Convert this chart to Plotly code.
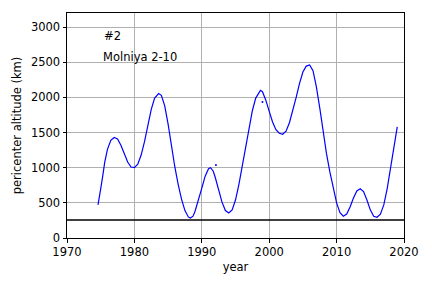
import plotly.graph_objects as go

years = [1974.6, 1974.8, 1975.0, 1975.3, 1975.6, 1976.0, 1976.5, 1977.0, 1977.5, 1978.0,
         1978.5, 1979.0, 1979.5, 1980.0, 1980.5, 1981.0, 1981.5, 1982.0, 1982.5, 1983.0,
         1983.6, 1984.0, 1984.5, 1985.0, 1985.5, 1986.0, 1986.5, 1987.0, 1987.5, 1988.0,
         1988.3, 1988.7, 1989.0, 1989.5, 1990.0, 1990.5, 1991.0, 1991.3, 1991.7, 1992.0,
         1992.5, 1993.0, 1993.5, 1994.0, 1994.5, 1995.0, 1995.5, 1996.0, 1996.5, 1997.0,
         1997.5, 1998.0, 1998.7, 1999.0, 1999.5, 2000.0, 2000.5, 2001.0, 2001.5, 2002.0,
         2002.5, 2003.0, 2003.5, 2004.0, 2004.5, 2005.0, 2005.5, 2006.0, 2006.5, 2007.0,
         2007.5, 2008.0, 2008.5, 2009.0, 2009.5, 2010.0, 2010.5, 2011.0, 2011.5, 2012.0,
         2012.5, 2013.0, 2013.5, 2014.0, 2014.5, 2015.0, 2015.5, 2016.0, 2016.5, 2017.0,
         2017.5, 2018.0, 2018.5, 2019.0]
altitude_km = [470, 560, 700, 880, 1080, 1260, 1390, 1430, 1410, 1320,
               1190, 1080, 1010, 1000, 1050, 1180, 1370, 1610, 1830, 1990,
               2055, 2030, 1880, 1620, 1310, 1010, 760, 550, 390, 300,
               285, 310, 380, 530, 710, 880, 985, 1000, 950, 860,
               680, 510, 390, 355, 400, 540, 760, 1020, 1290, 1560,
               1810, 1990, 2100, 2080, 1960, 1800, 1650, 1540, 1490, 1475,
               1520, 1640, 1810, 2000, 2200, 2360, 2445, 2460, 2380, 2150,
               1850, 1520, 1200, 940, 700, 500, 360, 310, 340, 440,
               570, 670, 700, 660, 540, 400, 310, 295, 340, 470,
               700, 980, 1270, 1580]

stray_years = [1992.1, 1999.0]
stray_km = [1037, 1936]

limit_years = [1970, 2020]
limit_km = [255, 255]

label_num = "#2"
label_name = "Molniya 2-10"

FS = 11.5

fig = go.Figure()
fig.add_trace(go.Scatter(x=limit_years, y=limit_km, mode="lines",
                         line=dict(color="black", width=1.5), showlegend=False))
fig.add_trace(go.Scatter(x=years, y=altitude_km, mode="lines",
                         line=dict(color="#0000ff", width=1.2), showlegend=False))
fig.add_trace(go.Scatter(x=stray_years, y=stray_km, mode="markers",
                         marker=dict(color="#0000ff", size=2), showlegend=False))

fig.add_annotation(x=1975.2, y=2870, text=label_num, showarrow=False,
                   xanchor="left", yanchor="middle", font=dict(size=FS, color="black"))
fig.add_annotation(x=1975.0, y=2570, text=label_name, showarrow=False,
                   xanchor="left", yanchor="middle", font=dict(size=FS, color="black"))

axis_common = dict(showline=True, linecolor="black", linewidth=1, mirror=True,
                   ticks="outside", tickcolor="black", ticklen=3.5, tickwidth=1,
                   showgrid=True, gridcolor="#b0b0b0", gridwidth=1, zeroline=False,
                   automargin=False, tickfont=dict(size=FS, color="black"))

fig.update_xaxes(range=[1970, 2020], tickvals=[1970, 1980, 1990, 2000, 2010, 2020],
                 title=dict(text="year", font=dict(size=FS, color="black"), standoff=4),
                 **axis_common)
fig.update_yaxes(range=[0, 3200], tickvals=[0, 500, 1000, 1500, 2000, 2500, 3000],
                 title=dict(text="pericenter altitude (km)", font=dict(size=FS, color="black"), standoff=6),
                 **axis_common)

fig.update_layout(width=432, height=288, margin=dict(l=67, r=28, t=13, b=50),
                  paper_bgcolor="white", plot_bgcolor="white",
                  font=dict(family="DejaVu Sans", size=FS, color="black"))

fig.write_html("out.html", config={"displayModeBar": False},
               post_script="document.body.style.margin='0';document.body.style.overflow='hidden';")
